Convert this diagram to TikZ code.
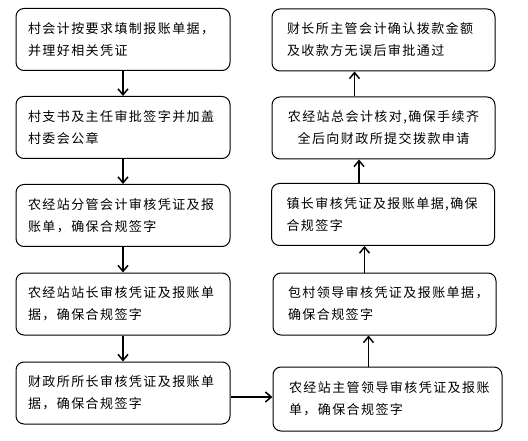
\documentclass[tikz,border=0pt]{standalone}
\usepackage{fontspec}
\setmainfont[LetterSpace=11]{Noto Sans CJK SC}
\usetikzlibrary{arrows.meta}

\begin{document}
\begin{tikzpicture}[x=1pt, y=-1pt,
    box/.style={draw, line width=1pt, rounded corners=8pt, minimum height=62pt, inner xsep=12pt, align=left, font=\fontsize{13}{22}\selectfont},
    arr/.style={-{Straight Barb[length=6pt, width=10pt]}, line width=1.5pt}]
     \useasboundingbox (0,0) rectangle (528,441);

     % left column, going down
     \node[box, text width=190pt] (L1) at (123,39.5) {村会计按要求填制报账单据，\\并理好相关凭证};
     \node[box, text width=190pt] (L2) at (123,127.5) {村支书及主任审批签字并加盖\\村委会公章};
     \node[box, text width=190pt] (L3) at (123,215.5) {农经站分管会计审核凭证及报\\账单，确保合规签字};
     \node[box, text width=190pt] (L4) at (123,304) {农经站站长审核凭证及报账单\\据，确保合规签字};
     \node[box, text width=190pt] (L5) at (123,393) {财政所所长审核凭证及报账单\\据，确保合规签字};

     % right column, going up
     \node[box, text width=193pt, inner xsep=15pt] (R1) at (383.5,40) {财长所主管会计确认拨款金额\\及收款方无误后审批通过};
     \node[box, text width=193pt, inner xsep=15pt, align=center] (R2) at (383.5,128) {农经站总会计核对,确保手续齐\\全后向财政所提交拨款申请};
     \node[box, text width=193pt, inner xsep=15pt] (R3) at (383,214.5) {镇长审核凭证及报账单据,确保\\合规签字};
     \node[box, text width=193pt, inner xsep=15pt] (R4) at (384.5,304) {包村领导审核凭证及报账单据，\\确保合规签字};
     \node[box, text width=197pt, inner xsep=16pt, minimum height=64pt] (R5) at (387.5,399) {农经站主管领导审核凭证及报账\\单，确保合规签字};

     \draw[arr] (L1) -- (L2);
     \draw[arr] (L2) -- (L3);
     \draw[arr] (L3) -- (L4);
     \draw[arr] (L4) -- (L5);

     \coordinate (s5) at ([yshift=-4pt]L5.east);
     \draw[arr] (s5) -- (s5 -| R5.west);

     \coordinate (u5) at ([xshift=-19pt]R5.north);
     \coordinate (u4) at ([xshift=-20pt]R4.north);
     \coordinate (u3) at ([xshift=-24pt]R3.north);
     \coordinate (u2) at ([xshift=-29pt]R2.north);
     \draw[arr] (u5) -- (u5 |- R4.south);
     \draw[arr] (u4) -- (u4 |- R3.south);
     \draw[arr] (u3) -- (u3 |- R2.south);
     \draw[arr] (u2) -- (u2 |- R1.south);
    \end{tikzpicture}
\end{document}
